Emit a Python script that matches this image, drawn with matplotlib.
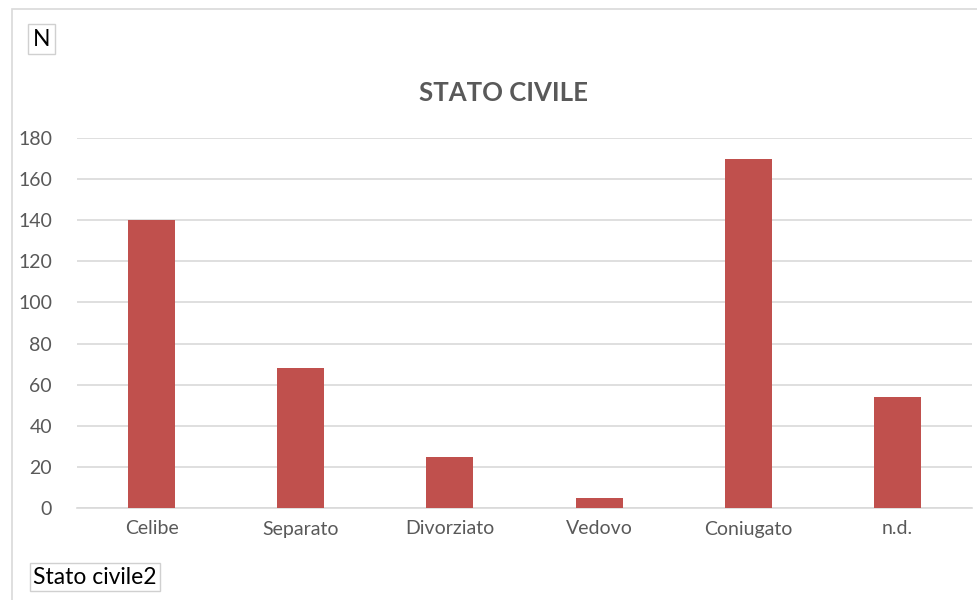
import matplotlib.pyplot as plt
from matplotlib.patches import Rectangle

categories = ['Celibe', 'Separato', 'Divorziato', 'Vedovo', 'Coniugato', 'n.d.']
values = [140, 68, 25, 5, 170, 54]
yticks = [0, 20, 40, 60, 80, 100, 120, 140, 160, 180]

plt.rcParams['font.family'] = ['Lato', 'DejaVu Sans']

fig = plt.figure(figsize=(9.78, 6.0), dpi=100)
ax = fig.add_axes([77 / 978, 1 - 508 / 600, (972 - 77) / 978, 370 / 600])

x = range(len(categories))
ax.bar(x, values, width=0.315, color='#C0504D', zorder=3)

ax.set_xlim(-0.5, len(categories) - 0.5)
ax.set_ylim(0, 180)
ax.set_yticks(yticks)
ax.set_xticks(list(x))
ax.set_xticklabels(categories)
ax.grid(axis='y', color='#d9d9d9', linewidth=1.2, zorder=0)
ax.tick_params(length=0, labelsize=14, labelcolor='#595959')
ax.tick_params(axis='x', pad=9)
ax.tick_params(axis='y', pad=18)
for s in ['top', 'right', 'left']:
    ax.spines[s].set_visible(False)
ax.spines['bottom'].set_color('#d9d9d9')
ax.spines['bottom'].set_linewidth(1.2)

fig.text(504 / 978, 1 - 93 / 600, 'STATO CIVILE', ha='center', va='center',
         fontsize=18.5, fontweight='bold', color='#595959')

# outer chart frame
fig.patches.append(Rectangle((12 / 978, -0.1), 1.0, 1 - 9 / 600 + 0.1,
                             transform=fig.transFigure, fill=False,
                             edgecolor='#d9d9d9', linewidth=1.2))

# field buttons
fig.text(33 / 978, 1 - 39 / 600, 'N', ha='left', va='center', fontsize=16.5,
         color='black',
         bbox=dict(boxstyle='square,pad=0.2', fc='white', ec='#d0d0d0', lw=1))
fig.text(33 / 978, 1 - 577 / 600, 'Stato civile2', ha='left', va='center',
         fontsize=16.5, color='black',
         bbox=dict(boxstyle='square,pad=0.15', fc='white', ec='#d0d0d0', lw=1))

fig.savefig('out.png', dpi=100)
